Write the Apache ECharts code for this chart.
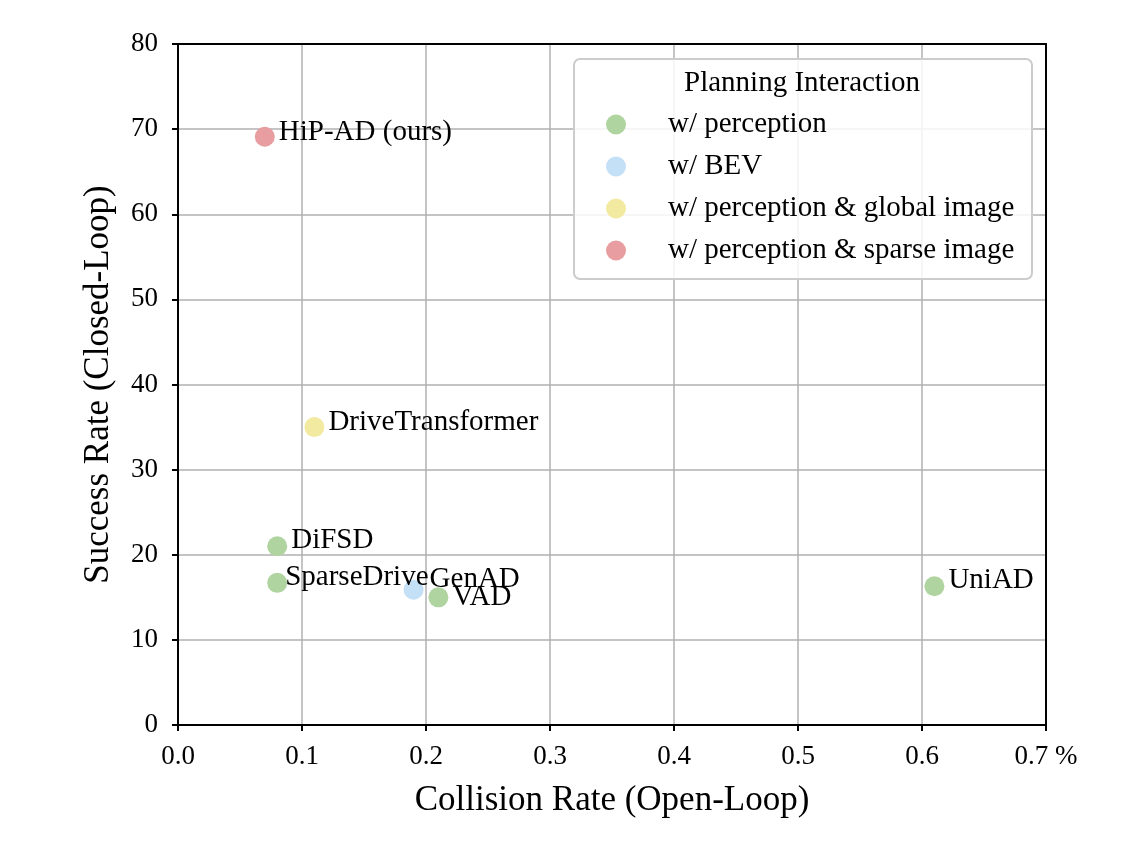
<!DOCTYPE html>
<html>
<head>
<meta charset="utf-8">
<script src="https://cdn.jsdelivr.net/npm/echarts@6/dist/echarts.min.js"></script>
<style>
html,body{margin:0;padding:0;background:#fff;}
#chart{width:1136px;height:862px;}
</style>
</head>
<body>
<div id="chart"></div>
<script>
// 数据
var groups = ['w/ perception', 'w/ BEV', 'w/ perception & global image', 'w/ perception & sparse image'];
var methods = ['HiP-AD (ours)', 'DriveTransformer', 'DiFSD', 'SparseDrive', 'GenAD', 'VAD', 'UniAD'];
var collision = [0.07, 0.11, 0.08, 0.08, 0.19, 0.21, 0.61];
var success = [69.1, 35.0, 21.0, 16.7, 15.9, 15.0, 16.3];
var methodGroup = [3, 2, 0, 0, 1, 0, 0];
var xTicks = ['0.0', '0.1', '0.2', '0.3', '0.4', '0.5', '0.6', '0.7 %'];

var colors = ['#b0d4a0', '#c4e0f6', '#f2eaa0', '#e89ea0'];
// 标签偏移 (像素)
var labelOffset = {
    'HiP-AD (ours)': [4, -4],
    'DriveTransformer': [4, -5],
    'DiFSD': [4, -6],
    'SparseDrive': [-2, -5],
    'GenAD': [6, -10],
    'VAD': [4, 0],
    'UniAD': [4, -6]
};
var font = 'Liberation Serif';

var myChart = echarts.init(document.getElementById('chart'));

var series = groups.map(function (g, gi) {
    var data = [];
    for (var i = 0; i < methods.length; i++) {
        if (methodGroup[i] !== gi) continue;
        data.push({
            name: methods[i],
            value: [collision[i], success[i]],
            label: {
                show: true,
                position: 'right',
                distance: 0,
                offset: labelOffset[methods[i]],
                formatter: '{b}',
                color: '#000',
                fontFamily: font,
                fontSize: 29
            }
        });
    }
    return {
        name: g,
        type: 'scatter',
        symbolSize: 20,
        itemStyle: {color: colors[gi], opacity: 1},
        data: data,
        z: 3
    };
});

// 只画边框线的坐标轴
function frameAxis(pos, isX) {
    return {
        type: 'value',
        position: pos,
        min: 0, max: isX ? 0.7 : 80,
        axisLine: {show: true, onZero: false, lineStyle: {color: '#000', width: 2}},
        axisTick: {show: false},
        axisLabel: {show: false},
        splitLine: {show: false}
    };
}

var option = {
    backgroundColor: '#fff',
    animation: false,
    grid: {left: 178, right: 90, top: 44, bottom: 137, containLabel: false},
    xAxis: [{
        type: 'value',
        min: 0, max: 0.7, interval: 0.1,
        axisLine: {show: true, onZero: false, lineStyle: {color: '#000', width: 2}},
        axisTick: {show: true, length: 6, lineStyle: {color: '#000', width: 2}},
        axisLabel: {
            color: '#000', fontFamily: font, fontSize: 27, margin: 18,
            formatter: function (v) { return xTicks[Math.round(v * 10)]; }
        },
        splitLine: {show: true, lineStyle: {color: '#b0b0b0', width: 1.5}},
        name: 'Collision Rate (Open-Loop)',
        nameLocation: 'middle',
        nameGap: 58,
        nameTextStyle: {color: '#000', fontFamily: font, fontSize: 35}
    }, frameAxis('top', true)],
    yAxis: [{
        type: 'value',
        min: 0, max: 80, interval: 10,
        axisLine: {show: true, onZero: false, lineStyle: {color: '#000', width: 2}},
        axisTick: {show: true, length: 6, lineStyle: {color: '#000', width: 2}},
        axisLabel: {color: '#000', fontFamily: font, fontSize: 27, margin: 20},
        splitLine: {show: true, lineStyle: {color: '#b0b0b0', width: 1.5}},
        name: 'Success Rate (Closed-Loop)',
        nameLocation: 'middle',
        nameGap: 62,
        nameTextStyle: {color: '#000', fontFamily: font, fontSize: 35}
    }, frameAxis('right', false)],
    graphic: [
        {
            type: 'rect',
            shape: {x: 574, y: 59, width: 458, height: 220, r: 6},
            style: {fill: 'rgba(255,255,255,0.85)', stroke: '#cccccc', lineWidth: 2},
            z: 10
        },
        {
            type: 'text',
            x: 802, y: 83,
            style: {
                text: 'Planning Interaction',
                fill: '#000',
                font: '29px "Liberation Serif"',
                textAlign: 'center',
                textVerticalAlign: 'middle'
            },
            z: 11
        }
    ],
    legend: {
        orient: 'vertical',
        left: 601,
        top: 105,
        itemWidth: 20,
        itemHeight: 20,
        itemGap: 13,
        icon: 'circle',
        z: 12,
        textStyle: {color: '#000', fontFamily: font, fontSize: 29, lineHeight: 22, padding: [0, 0, 0, 37]},
        data: groups
    },
    series: series
};
myChart.setOption(option);
</script>
</body>
</html>
